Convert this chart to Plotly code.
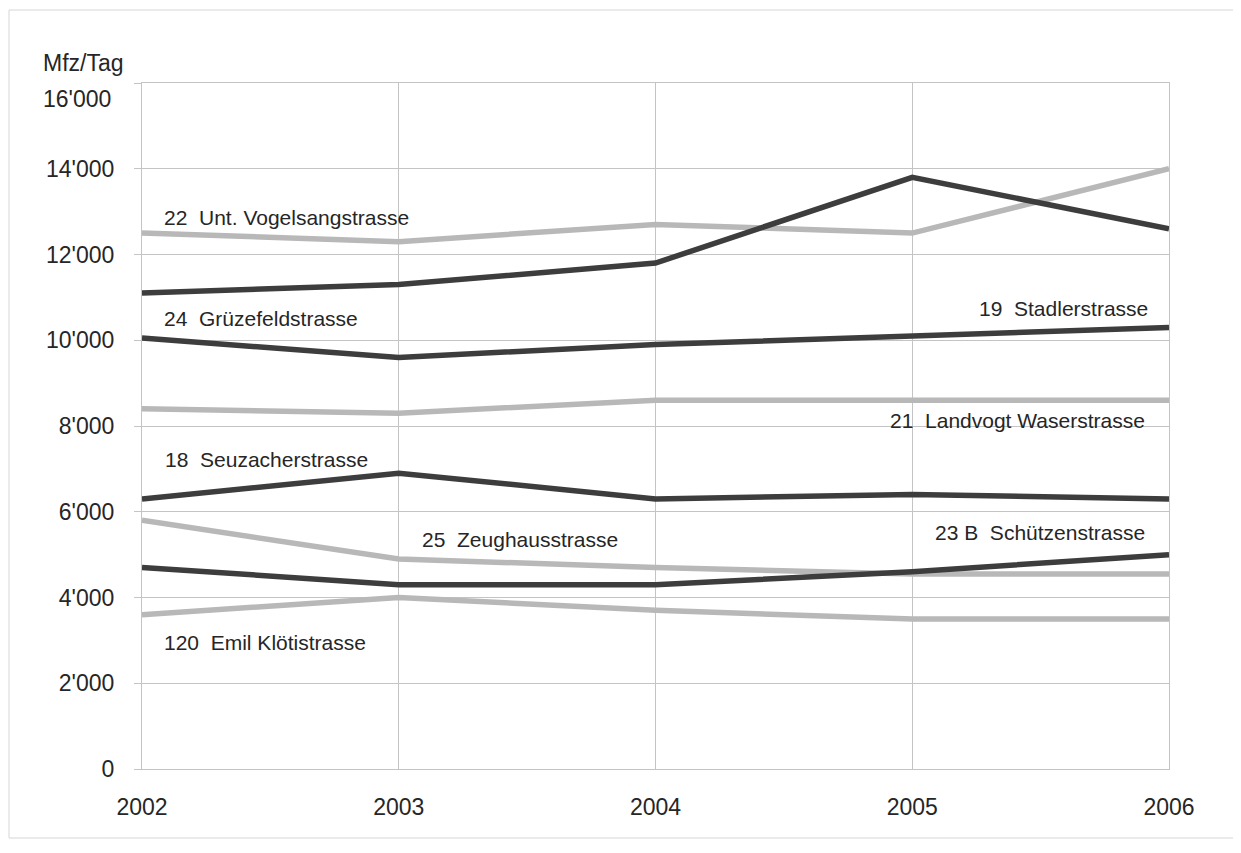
import plotly.graph_objects as go

years = [2002, 2003, 2004, 2005, 2006]
y_ticks = [0, 2000, 4000, 6000, 8000, 10000, 12000, 14000, 16000]
y_tick_labels = ["0", "2'000", "4'000", "6'000", "8'000", "10'000", "12'000", "14'000", "16'000"]

vogelsang_22 = [12500, 12300, 12700, 12500, 14000]
dark_upper = [11100, 11300, 11800, 13800, 12600]
grueze_stadler = [10050, 9600, 9900, 10100, 10300]
landvogt_21 = [8400, 8300, 8600, 8600, 8600]
seuzacher_18 = [6300, 6900, 6300, 6400, 6300]
zeughaus_25 = [5800, 4900, 4700, 4550, 4550]
schuetzen_23b = [4700, 4300, 4300, 4600, 5000]
kloeti_120 = [3600, 4000, 3700, 3500, 3500]

LIGHT = "#b8b8b8"
DARK = "#3d3d3d"
TEXT = "#262626"
GRID = "#c4c4c4"
FONT = "Liberation Sans, Arial, Helvetica, sans-serif"

series = [
    (vogelsang_22, LIGHT),
    (landvogt_21, LIGHT),
    (zeughaus_25, LIGHT),
    (kloeti_120, LIGHT),
    (dark_upper, DARK),
    (grueze_stadler, DARK),
    (seuzacher_18, DARK),
    (schuetzen_23b, DARK),
]

fig = go.Figure()
for vals, col in series:
    fig.add_trace(go.Scatter(x=years, y=vals, mode="lines",
                             line=dict(color=col, width=5.5), showlegend=False,
                             hoverinfo="skip"))

labels = [
    ("22  Unt. Vogelsangstrasse", 2002.078, 12860, "left"),
    ("24  Grüzefeldstrasse", 2002.078, 10510, "left"),
    ("19  Stadlerstrasse", 2005.926, 10740, "right"),
    ("21  Landvogt Waserstrasse", 2005.914, 8140, "right"),
    ("18  Seuzacherstrasse", 2002.082, 7230, "left"),
    ("25  Zeughausstrasse", 2003.083, 5350, "left"),
    ("23 B  Schützenstrasse", 2005.914, 5510, "right"),
    ("120  Emil Klötistrasse", 2002.078, 2950, "left"),
]
for txt, x, y, anc in labels:
    fig.add_annotation(x=x, y=y, text=txt, showarrow=False, xanchor=anc,
                       yanchor="middle", font=dict(size=21, color=TEXT, family=FONT))

# top tick label sits a little below its gridline in the reference
tick_text = y_tick_labels[:-1] + [""]
fig.add_annotation(x=0, y=y_ticks[-1], xref="paper", yref="y", xshift=-29, yshift=-16,
                   text=y_tick_labels[-1], showarrow=False, xanchor="right",
                   yanchor="middle", font=dict(size=23, color=TEXT, family=FONT))

fig.add_annotation(x=0, y=1, xref="paper", yref="paper", xshift=-101, yshift=20,
                   text="Mfz/Tag", showarrow=False, xanchor="left", yanchor="middle",
                   font=dict(size=23, color=TEXT, family=FONT))

fig.add_shape(type="rect", xref="paper", yref="paper", x0=-0.1295, x1=1.0652,
              y0=-0.1006, y1=1.1064, line=dict(color="#d6d6d6", width=1))

fig.update_layout(
    width=1233, height=845,
    margin=dict(l=134, r=72, t=75, b=84),
    paper_bgcolor="white", plot_bgcolor="white",
    font=dict(family=FONT, size=23, color=TEXT),
    xaxis=dict(range=[2002, 2006], tickvals=years, ticktext=[str(y) for y in years],
               showgrid=True, gridcolor=GRID, gridwidth=1, zeroline=False,
               showline=True, linecolor=GRID, linewidth=1, mirror=True,
               ticks="", ticklabelstandoff=17, tickfont=dict(size=23)),
    yaxis=dict(range=[0, 16000], tickvals=y_ticks, ticktext=tick_text,
               showgrid=True, gridcolor=GRID, gridwidth=1, zeroline=False,
               showline=True, linecolor=GRID, linewidth=1, mirror=True,
               ticks="outside", ticklen=7, tickcolor=GRID,
               tickfont=dict(size=23), ticklabelstandoff=15),
)

fig.write_html("out.html")
